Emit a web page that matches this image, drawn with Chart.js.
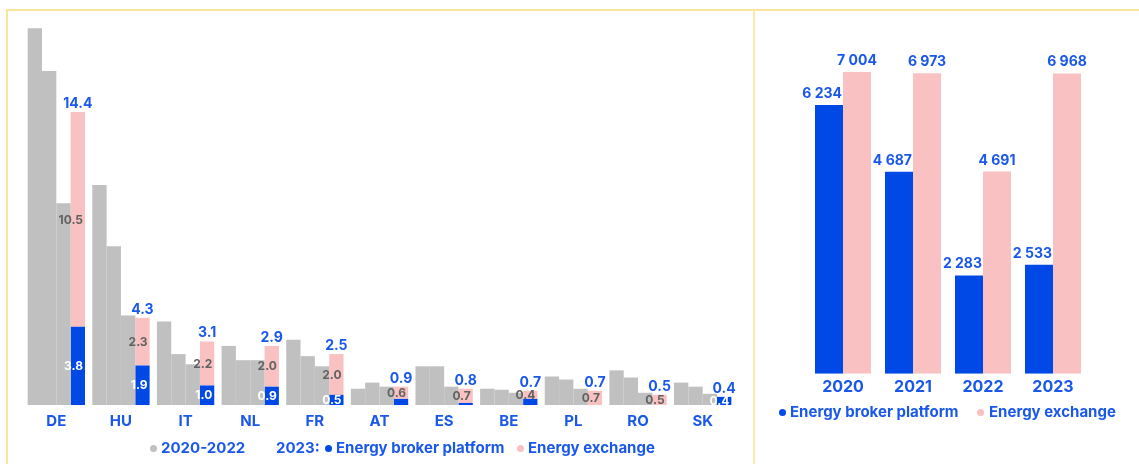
<!DOCTYPE html>
<html>
<head>
<meta charset="utf-8">
<script src="https://cdn.jsdelivr.net/npm/chart.js@4.4.1/dist/chart.umd.min.js"></script>
<style>
  html, body { margin: 0; padding: 0; background: #fff; width: 1139px; height: 464px; overflow: hidden; font-family: Inter, sans-serif; }
  .rule { position: absolute; background: #fde49c; }
  #ruleTop { left: 6px; top: 9px; width: 1133px; height: 2px; }
  #ruleLeft { left: 6px; top: 9px; width: 2px; height: 455px; }
  #ruleMid { left: 753px; top: 9px; width: 2px; height: 455px; background: #fde8aa; }
  canvas { position: absolute; top: 0; }
  #countryChart { left: 0; }
  #yearChart { left: 755px; }
  .lg { position: absolute; font: 700 15px Inter, sans-serif; line-height: 18px; color: #1958ea; white-space: nowrap; }
  .dot { position: absolute; width: 7px; height: 7px; border-radius: 50%; }
</style>
</head>
<body>
<div class="rule" id="ruleTop"></div>
<div class="rule" id="ruleLeft"></div>
<div class="rule" id="ruleMid"></div>

<canvas id="countryChart" width="754" height="464"></canvas>
<canvas id="yearChart" width="384" height="464"></canvas>

<!-- country chart legend -->
<span class="dot" style="left:150px;top:445px;background:#c0c0c0"></span>
<span class="lg" style="left:161px;top:439px">2020-2022</span>
<span class="lg" style="left:276px;top:439px">2023:</span>
<span class="dot" style="left:325px;top:445px;background:#0049e6"></span>
<span class="lg" style="left:336px;top:439px">Energy broker platform</span>
<span class="dot" style="left:517px;top:445px;background:#f9c1c1"></span>
<span class="lg" style="left:528px;top:439px">Energy exchange</span>

<!-- yearly chart legend -->
<span class="dot" style="left:779px;top:409px;background:#0049e6"></span>
<span class="lg" style="left:790px;top:403px">Energy broker platform</span>
<span class="dot" style="left:977px;top:409px;background:#f9c1c1"></span>
<span class="lg" style="left:989px;top:403px">Energy exchange</span>

<script>
// Volumes by country (TWh)
const countries = ['DE', 'HU', 'IT', 'NL', 'FR', 'AT', 'ES', 'BE', 'PL', 'RO', 'SK'];
const vol2020 = [18.5, 10.8, 4.1, 2.9, 3.2, 0.8, 1.9, 0.8, 1.4, 1.7, 1.1];
const vol2021 = [16.4, 7.8, 2.5, 2.2, 2.4, 1.1, 1.9, 0.75, 1.25, 1.35, 0.9];
const vol2022 = [9.9, 4.4, 2.0, 2.2, 1.9, 0.9, 0.9, 0.6, 0.8, 0.6, 0.55];
const broker2023 = [3.84, 1.94, 0.96, 0.9, 0.5, 0.3, 0.1, 0.3, 0.0, 0.0, 0.4];
const exchange2023 = [10.54, 2.34, 2.16, 2.0, 2.0, 0.6, 0.7, 0.4, 0.7, 0.5, 0.0];

// Yearly totals
const years = ['2020', '2021', '2022', '2023'];
const brokerByYear = [6234, 4687, 2283, 2533];
const exchangeByYear = [7004, 6973, 4691, 6968];

const BLUE = '#0049e6';
const PINK = '#f9c1c1';
const GREY = '#c0c0c0';
const TEXT_BLUE = '#1958ea';
const FONT = 'Inter, sans-serif';

function spaced(n) {
  return String(n).replace(/\B(?=(\d{3})+(?!\d))/g, ' ');
}

const countryLabels = {
  id: 'countryLabels',
  afterDatasetsDraw(chart) {
    const ctx = chart.ctx;
    const bMeta = chart.getDatasetMeta(3);
    const eMeta = chart.getDatasetMeta(4);
    ctx.save();
    bMeta.data.forEach((bar, i) => {
      const b = broker2023[i];
      const e = exchange2023[i];
      const ex = eMeta.data[i];
      const right = bar.x + bar.width / 2 - 2;
      ctx.textBaseline = 'middle';
      ctx.textAlign = 'right';
      ctx.font = '700 12px ' + FONT;
      if (b >= 0.4) {
        ctx.fillStyle = '#ffffff';
        ctx.fillText(b.toFixed(1), right, (bar.y + bar.base) / 2 + 0.5);
      }
      if (e > 0) {
        ctx.fillStyle = '#626262';
        ctx.fillText(e.toFixed(1), right, (ex.y + ex.base) / 2 + 0.5);
      }
      ctx.textAlign = 'center';
      ctx.textBaseline = 'alphabetic';
      ctx.font = '700 14px ' + FONT;
      ctx.fillStyle = TEXT_BLUE;
      ctx.fillText((b + e).toFixed(1), bar.x, Math.min(ex.y, bar.y) - 4);
    });
    ctx.restore();
  }
};

const yearLabels = {
  id: 'yearLabels',
  afterDatasetsDraw(chart) {
    const ctx = chart.ctx;
    ctx.save();
    ctx.font = '700 14px ' + FONT;
    ctx.fillStyle = TEXT_BLUE;
    ctx.textBaseline = 'alphabetic';
    chart.getDatasetMeta(0).data.forEach((bar, i) => {
      ctx.textAlign = 'right';
      ctx.fillText(spaced(brokerByYear[i]), bar.x + bar.width / 2 - 1, bar.y - 7);
    });
    chart.getDatasetMeta(1).data.forEach((bar, i) => {
      ctx.textAlign = 'center';
      ctx.fillText(spaced(exchangeByYear[i]), bar.x, bar.y - 7);
    });
    ctx.restore();
  }
};

new Chart(document.getElementById('countryChart'), {
  type: 'bar',
  data: {
    labels: countries,
    datasets: [
      { label: '2020', data: vol2020, backgroundColor: GREY, stack: 's2020' },
      { label: '2021', data: vol2021, backgroundColor: GREY, stack: 's2021' },
      { label: '2022', data: vol2022, backgroundColor: GREY, stack: 's2022' },
      { label: 'Energy broker platform', data: broker2023, backgroundColor: BLUE, stack: 's2023' },
      { label: 'Energy exchange', data: exchange2023, backgroundColor: PINK, stack: 's2023' }
    ]
  },
  options: {
    responsive: false,
    animation: false,
    categoryPercentage: 0.887,
    barPercentage: 1,
    layout: { padding: { top: 18, left: 24, right: 19, bottom: 27 } },
    plugins: { legend: { display: false }, tooltip: { enabled: false } },
    scales: {
      x: {
        stacked: true,
        grid: { display: false, drawTicks: false },
        border: { display: false },
        ticks: { color: TEXT_BLUE, font: { family: FONT, size: 15, weight: '700' }, padding: 7 }
      },
      y: {
        stacked: true,
        display: false,
        min: 0,
        max: 19
      }
    }
  },
  plugins: [countryLabels]
});

new Chart(document.getElementById('yearChart'), {
  type: 'bar',
  data: {
    labels: years,
    datasets: [
      { label: 'Energy broker platform', data: brokerByYear, backgroundColor: BLUE },
      { label: 'Energy exchange', data: exchangeByYear, backgroundColor: PINK }
    ]
  },
  options: {
    responsive: false,
    animation: false,
    categoryPercentage: 0.8,
    barPercentage: 1,
    layout: { padding: { top: 29, left: 53, right: 51, bottom: 63 } },
    plugins: { legend: { display: false }, tooltip: { enabled: false } },
    scales: {
      x: {
        grid: { display: false, drawTicks: false },
        border: { display: false },
        ticks: { color: TEXT_BLUE, font: { family: FONT, size: 16, weight: '700' }, padding: 4 }
      },
      y: { display: false, min: 0, max: 8000 }
    }
  },
  plugins: [yearLabels]
});
</script>
</body>
</html>
